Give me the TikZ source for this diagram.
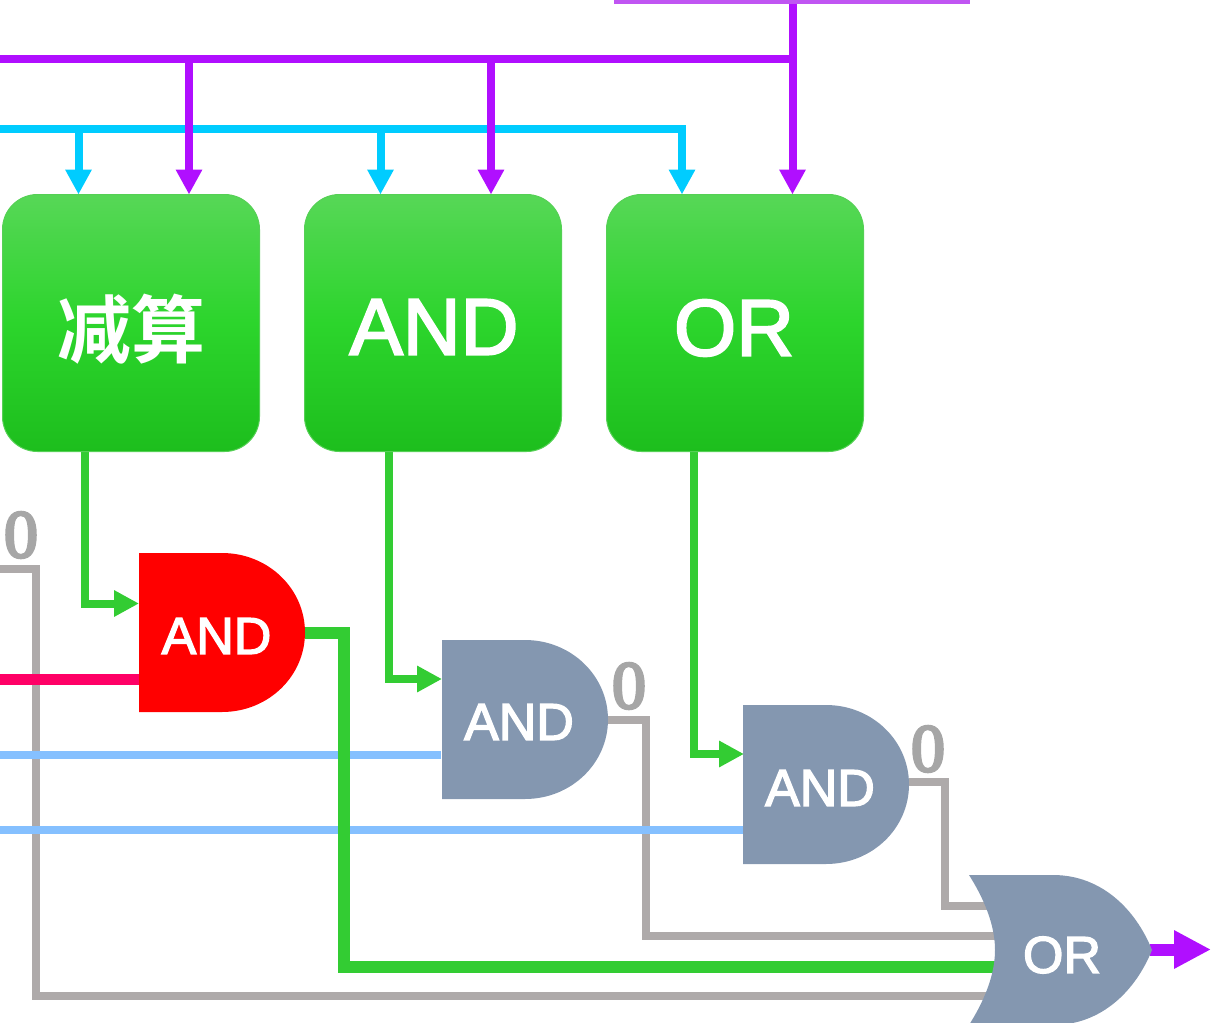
\documentclass[tikz,border=0pt]{standalone}
\usepackage{fontspec}
\setmainfont{Liberation Sans}
\newfontfamily\labelfont[FakeBold=2.6]{Liberation Sans}
\newfontfamily\zerofont[FakeBold=4]{Liberation Serif}
\newfontfamily\cjkfont{Noto Sans CJK SC Bold}
\usetikzlibrary{arrows.meta,calc}
\pgfdeclarelayer{wires}
\pgfsetlayers{wires,main}
\definecolor{wpurple}{HTML}{B00FFF}
\definecolor{wbar}{HTML}{C055F2}
\definecolor{wcyan}{HTML}{00CCFF}
\definecolor{wgreen}{HTML}{33CC33}
\definecolor{wgray}{HTML}{AEAAAA}
\definecolor{wblue}{HTML}{85C0FF}
\definecolor{wpink}{HTML}{FF0066}
\definecolor{gateblue}{HTML}{8497B0}
\definecolor{zerogray}{HTML}{A6A6A6}
\definecolor{boxtop}{HTML}{57D757}
\definecolor{boxmid}{HTML}{2CD52C}
\definecolor{boxbot}{HTML}{1DBE1D}
\definecolor{boxedge}{HTML}{55D055}
\tikzset{
  wire/.style={line width=8pt,line join=miter},
  head/.style={-{Triangle[length=25pt,width=25pt]}},
  block/.style={draw=boxedge,line width=1pt,outer sep=0pt,rounded corners=35pt,minimum width=257pt,minimum height=257pt,inner sep=0pt,
    top color=boxtop,bottom color=boxbot,middle color=boxmid},
  blocklabel/.style={text=white,inner sep=0pt,font=\labelfont\fontsize{80}{80}\selectfont},
  gatelabel/.style={text=white,inner sep=0pt,font=\labelfont\fontsize{52}{52}\selectfont},
  zero/.style={text=zerogray,inner sep=0pt,font=\zerofont\fontsize{68}{68}\selectfont},
}
\newcommand\andshape[3]{%
  \begin{scope}[shift={(#1,#2)}]
  \fill[#3] (0,0) -- (83,0) .. controls (129,0) and (166,35.5) .. (166,79.5)
    .. controls (166,123.5) and (129,159) .. (83,159) -- (0,159) -- cycle;
  \end{scope}}
\begin{document}
\begin{tikzpicture}[x=1pt,y=-1pt]
\useasboundingbox (0,0) rectangle (1211,1023);
% blocks
\node[block] (b1) at (131,323) {};
\node[block] (b2) at (433,323) {};
\node[block] (b3) at (735,323) {};
\node[text=white,inner sep=0pt,font=\cjkfont\fontsize{74}{74}\selectfont] (t1) at (131,329) {减算};
\node[blocklabel] (t2) at (434,327) {AND};
\node[blocklabel] (t3) at (734,328) {OR};
% gates
\andshape{139}{553}{red}
\andshape{442}{640}{gateblue}
\andshape{743}{705}{gateblue}
\fill[gateblue] (969,875) -- (1053,875) .. controls (1102,875) and (1136,910) .. (1152,950)
  .. controls (1136,990) and (1102,1025) .. (1053,1025) -- (969,1025)
  .. controls (988,995) and (995,970) .. (995,950)
  .. controls (995,930) and (988,905) .. (969,875) -- cycle;
\node[gatelabel] (g1) at (216.5,636) {AND};
\node[gatelabel] (g2) at (519,722) {AND};
\node[gatelabel] (g3) at (820,788) {AND};
\node[gatelabel] (g4) at (1062,955) {OR};
\node[zero] (z1) at (21,535) {0};
\node[zero] (z2) at (629,686) {0};
\node[zero] (z3) at (928,749) {0};
% ports
\coordinate (p1a) at (139,603.5);
\coordinate (p1b) at (139,679);
\coordinate (p1o) at (305,633);
\coordinate (p2a) at (442,679);
\coordinate (p2b) at (441,754.5);
\coordinate (p2o) at (608,720);
\coordinate (p3a) at (744,754);
\coordinate (p3b) at (743,830);
\coordinate (p3o) at (909,782);
\coordinate (q1) at (1000,906);
\coordinate (q2) at (1000,936);
\coordinate (q3) at (1000,966.5);
\coordinate (q4) at (1000,996);
\coordinate (qo) at (1150,949.5);
\coordinate (out) at (1211,949.5);
\coordinate (barL) at (614,0);
\coordinate (barR) at (970,0);
\coordinate (busP) at (0,59);
\coordinate (busC) at (0,129);
\coordinate (grayL) at (0,569);
\coordinate (pinkL) at (0,679);
\coordinate (blueL1) at (0,754.5);
\coordinate (blueL2) at (0,830);
\coordinate (c1) at (78.5,194.5);
\coordinate (c2) at (380.5,194.5);
\coordinate (c3) at (682,194.5);
\coordinate (m1) at (189,194.5);
\coordinate (m2) at (491,194.5);
\coordinate (m3) at (792.5,194.5);
\coordinate (s1) at (84.5,452);
\coordinate (s2) at (389,452);
\coordinate (s3) at (694,452);
\begin{pgfonlayer}{wires}
% gray wires
\draw[wire,wgray] (grayL) -- (36,569) -- (36,996) -- (q4);
\draw[wire,wgray] (p2o) -- (646,720) -- (646,936) -- (q2);
\draw[wire,wgray] (p3o) -- (945,782) -- (945,906) -- (q1);
% blue and pink
\draw[wire,wblue] (blueL1) -- (p2b);
\draw[wire,wblue] (blueL2) -- (p3b);
\draw[line width=11pt,wpink] (pinkL) -- (p1b);
% cyan bus
\draw[wire,wcyan,head] (78.5,129) -- (c1);
\draw[wire,wcyan,head] (380.5,129) -- (c2);
\draw[wire,wcyan,head] (busC) -- (682,129) -- (c3);
% purple bus
\draw[wire,wpurple,head] (792.5,0) -- (m3);
\draw[wire,wpurple] (busP) -- (792.5,59);
\draw[wire,wpurple,head] (189,59) -- (m1);
\draw[wire,wpurple,head] (491,59) -- (m2);
\draw[line width=7pt,wbar] (barL) -- (barR);
% green wires
\draw[wire,wgreen,head] (s1) -- (84.5,603.5) -- (p1a);
\draw[wire,wgreen,head] (s2) -- (389,679) -- (p2a);
\draw[wire,wgreen,head] (s3) -- (694,754) -- (p3a);
\draw[line width=12pt,wgreen] (p1o) -- (344,633) -- (344,966.5) -- (q3);
% output
\draw[line width=12pt,wpurple,-{Triangle[length=37pt,width=36pt]}] (qo) -- (out);
\end{pgfonlayer}
\end{tikzpicture}
\end{document}
